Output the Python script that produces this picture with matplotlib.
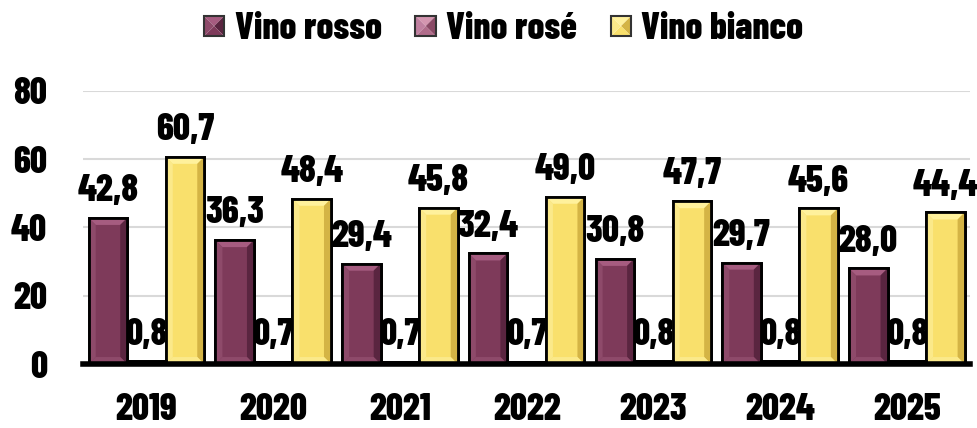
import matplotlib
matplotlib.use("Agg")
import matplotlib.pyplot as plt
from matplotlib.patches import Polygon, Rectangle
from matplotlib.legend_handler import HandlerBase
from matplotlib import font_manager
import numpy as np

years = ["2019", "2020", "2021", "2022", "2023", "2024", "2025"]
rosso = [42.8, 36.3, 29.4, 32.4, 30.8, 29.7, 28.0]
rose = [0.8, 0.7, 0.7, 0.7, 0.8, 0.8, 0.8]
bianco = [60.7, 48.4, 45.8, 49.0, 47.7, 45.6, 44.4]
series_names = ["Vino rosso", "Vino rosé", "Vino bianco"]
yticks = [0, 20, 40, 60, 80]

FS = 27

def FP(size=FS):
    return font_manager.FontProperties(family=["Barlow Condensed", "DejaVu Sans"], weight=800, size=size)

colors = {
    "Vino rosso": ("#7E3A5A", "#A65C80", "#5A2540", "#8E4A6A"),
    "Vino rosé": ("#B06C8A", "#D496B0", "#8A4A66", "#C080A0"),
    "Vino bianco": ("#F9E06C", "#FFF19C", "#D4B445", "#FBE98A"),
}

fig = plt.figure(figsize=(9.78, 4.28), dpi=100)
ax = fig.add_axes([0.085, 0.1495, 0.907, 0.638])
ax.set_xlim(-0.5, len(years) - 0.5)
ax.set_ylim(0, 80)

x = np.arange(len(years))
w = 0.304
data = [rosso, rose, bianco]
offsets = [-w, 0, w]

def bevel(ax, x0, bw, h, cols):
    inv = ax.transData.inverted()
    p0 = inv.transform(ax.transData.transform((x0, 0)) + np.array([7, 7]))
    dx = p0[0] - x0
    dy = min(p0[1], h / 2)
    dx = min(dx, bw / 2)
    top = Polygon([(x0, h), (x0 + bw, h), (x0 + bw - dx, h - dy), (x0 + dx, h - dy)],
                  closed=True, facecolor=cols[1], edgecolor="none", zorder=3)
    right = Polygon([(x0 + bw, h), (x0 + bw, 0), (x0 + bw - dx, dy), (x0 + bw - dx, h - dy)],
                    closed=True, facecolor=cols[2], edgecolor="none", zorder=3)
    left = Polygon([(x0, h), (x0, 0), (x0 + dx, dy), (x0 + dx, h - dy)],
                   closed=True, facecolor=cols[3], edgecolor="none", zorder=3)
    bot = Polygon([(x0, 0), (x0 + bw, 0), (x0 + bw - dx, dy), (x0 + dx, dy)],
                  closed=True, facecolor=cols[3], edgecolor="none", zorder=3)
    for p in (top, right, left, bot):
        ax.add_patch(p)

fig.canvas.draw()
for name, vals, off in zip(series_names, data, offsets):
    cols = colors[name]
    bars = ax.bar(x + off, vals, width=w, color=cols[0], edgecolor="black",
                  linewidth=2, zorder=2, label=name)
    for b, v in zip(bars, vals):
        bevel(ax, b.get_x(), b.get_width(), v, cols)
        ax.add_patch(Rectangle((b.get_x(), 0), b.get_width(), v, fill=False,
                               edgecolor="black", linewidth=2, zorder=4))
        lbl = f"{v:.1f}".replace(".", ",")
        ax.annotate(lbl, (b.get_x() + b.get_width() / 2, v), xytext=(0, 7),
                    textcoords="offset points", ha="center", va="bottom",
                    fontproperties=FP(), zorder=1 if name == "Vino rosé" else 5)

ax.set_yticks(yticks)
ax.set_yticklabels([str(t) for t in yticks])
ax.set_xticks(x)
ax.set_xticklabels(years)
for t in ax.get_xticklabels() + ax.get_yticklabels():
    t.set_fontproperties(FP())
ax.tick_params(axis="both", length=0)
ax.tick_params(axis="x", pad=21)
ax.tick_params(axis="y", pad=26)
ax.grid(axis="y", color="#D9D9D9", linewidth=1.5, zorder=0)
ax.set_axisbelow(True)
for s in ["top", "right", "left"]:
    ax.spines[s].set_visible(False)
ax.spines["bottom"].set_linewidth(4)
ax.spines["bottom"].set_zorder(6)


class PyramidHandler(HandlerBase):
    def __init__(self, cols):
        super().__init__()
        self.cols = cols

    def create_artists(self, legend, orig_handle, xdescent, ydescent, width, height, fontsize, trans):
        s = min(width, height)
        x0 = -xdescent + (width - s) / 2
        y0 = -ydescent + (height - s) / 2
        cx, cy = x0 + s / 2, y0 + s / 2
        c = self.cols
        tris = [
            ([(x0, y0 + s), (x0 + s, y0 + s), (cx, cy)], c[1]),
            ([(x0 + s, y0 + s), (x0 + s, y0), (cx, cy)], c[2]),
            ([(x0, y0), (x0 + s, y0), (cx, cy)], c[0]),
            ([(x0, y0), (x0, y0 + s), (cx, cy)], c[3]),
        ]
        arts = [Polygon(p, closed=True, facecolor=col, edgecolor="none", transform=trans) for p, col in tris]
        arts.append(Rectangle((x0, y0), s, s, fill=False, edgecolor="#333333", linewidth=1.5, transform=trans))
        return arts


handles = [Rectangle((0, 0), 1, 1, facecolor=colors[n][0]) for n in series_names]
hmap = {h: PyramidHandler(colors[n]) for h, n in zip(handles, series_names)}
fig.legend(handles, series_names, loc="upper center", bbox_to_anchor=(0.515, 1.05), ncol=3,
           frameon=False, handlelength=0.55, handleheight=0.55,
           handletextpad=0.27, columnspacing=0.9, prop=FP(), handler_map=hmap)

fig.savefig("out.png", dpi=100)
